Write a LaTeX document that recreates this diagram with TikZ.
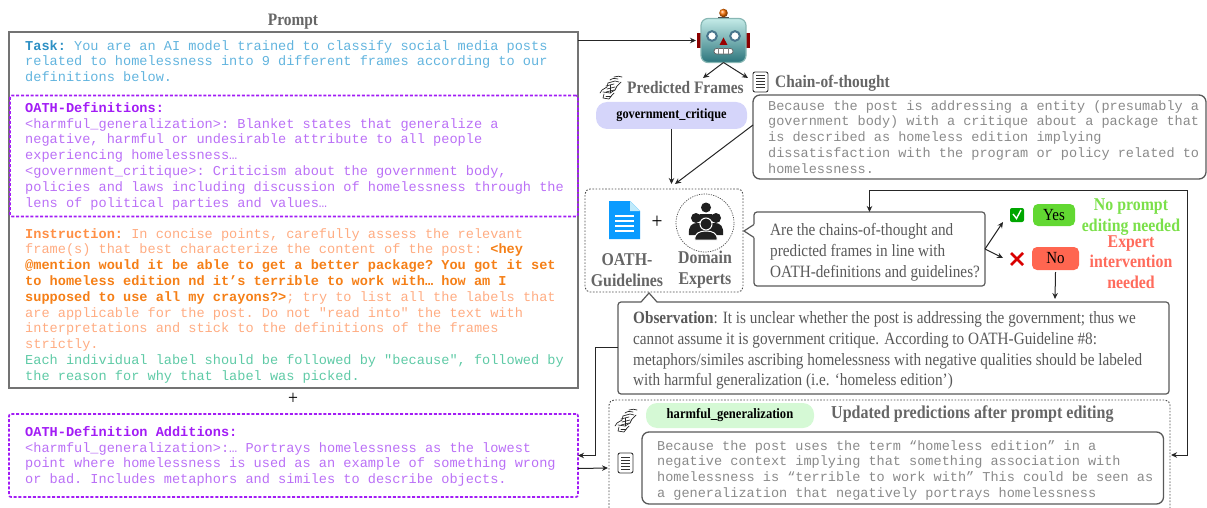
\documentclass[tikz,border=0pt]{standalone}
\usepackage{fontspec}
\usepackage{xcolor}
\setmonofont{Liberation Mono}
\newfontfamily\gar[FakeStretch=0.88]{Liberation Serif}
\usetikzlibrary{arrows.meta,calc}
\definecolor{taskb}{HTML}{2E90C4}
\definecolor{taskc}{HTML}{62B4DE}
\definecolor{purb}{HTML}{A21CF5}
\definecolor{purc}{HTML}{BA70F6}
\definecolor{insb}{HTML}{FF8F45}
\definecolor{insc}{HTML}{FFAC82}
\definecolor{post}{HTML}{F57F17}
\definecolor{grn}{HTML}{5FCAA6}
\definecolor{headg}{HTML}{666666}
\definecolor{monog}{HTML}{8A8A8A}
\definecolor{okg}{HTML}{7BE04A}
\definecolor{badr}{HTML}{FF6B5C}
\definecolor{govfill}{HTML}{D5D5FA}
\definecolor{harmfill}{HTML}{D5F9D5}
\definecolor{yesfill}{HTML}{62D832}
\definecolor{nofill}{HTML}{FF6650}
\definecolor{docblue}{HTML}{0A9BFF}
\definecolor{facetop}{HTML}{C4EBE8}
\definecolor{facemid}{HTML}{8CCFCB}
\definecolor{facebot}{HTML}{2B757C}
\tikzset{
  x=1pt,y=-1pt,
  rectbox/.style={draw=black!55,line width=1.2pt,inner sep=0pt,outer sep=0pt},
  purplebox/.style={draw=purb,line width=1.7pt,dash pattern=on 3pt off 1.8pt,rounded corners=2pt,inner sep=0pt,outer sep=0pt},
  dotbox/.style={draw=black!70,line width=0.9pt,dash pattern=on 1.6pt off 1.6pt,rounded corners=5pt,inner sep=0pt,outer sep=0pt},
  graybox/.style={draw=black!65,line width=1.2pt,rounded corners=3pt,inner sep=0pt,outer sep=0pt},
  softbox/.style={draw=black!65,line width=1.3pt,rounded corners=7pt,inner sep=0pt,outer sep=0pt},
  pill/.style={fill=#1,rounded corners=11pt,inner sep=0pt,outer sep=0pt},
  tag/.style={fill=#1,rounded corners=5pt,inner sep=0pt,outer sep=0pt},
  monotext/.style={anchor=north west,inner sep=0pt,align=left,font=\ttfamily\fontsize{13.6}{15.8}\selectfont},
  heading/.style={inner sep=0pt,text=headg,font=\gar\bfseries\fontsize{17.5}{20}\selectfont},
  sidetext/.style={inner sep=0pt,align=center,font=\gar\bfseries\fontsize{18}{21}\selectfont},
  bodytext/.style={anchor=north west,inner sep=0pt,align=left,text=black!65,font=\gar\fontsize{17.3}{20.9}\selectfont},
  conn/.style={-{Stealth[length=6pt,width=5.5pt]},line width=1pt,black!85},
  connboth/.style={{Stealth[length=6pt,width=5.5pt]}-{Stealth[length=6pt,width=5.5pt]},line width=1pt,black!85},
}
\newcommand{\boxat}[6]{% name, style, x1,y1,x2,y2
  \node[#2,minimum width=#5pt-#3pt,minimum height=#6pt-#4pt] (#1) at ({(#3+#5)/2},{(#4+#6)/2}) {};}
\newcommand{\noteicon}[2]{% x,y top-left, 15x20
  \begin{scope}[shift={(#1,#2)}]
    \draw[black!80,line width=0.9pt,rounded corners=2pt] (0,0) rectangle (15,20);
    \foreach \yy in {4,7,10,13,16}{\draw[black!80,line width=1pt] (3,\yy) -- (12,\yy);}
  \end{scope}}
\newcommand{\handicon}[2]{% x,y top-left, 23x25
  \begin{scope}[shift={(#1,#2)},black!85,line width=0.7pt,line cap=round,line join=round]
    \draw (14,2) .. controls (17,1) and (20,1) .. (22,2);
    \draw (10,5) .. controls (13,3) and (15,3) .. (18,4);
    \draw (8,8) -- (15,6) -- (19,7);
    \draw (21,7) -- (17,11) -- (15,15);
    \draw (8,8) -- (7,12) -- (2,15) -- (0,18);
    \draw (6,11) -- (14,9);
    \draw (7,14) -- (15,12);
    \draw (6,17) -- (14,15);
    \draw (3,17) -- (10,18) -- (15,15);
    \draw (4,19) -- (3,23) -- (9,24) -- (12,20) -- (14,18);
    \draw (6,21) -- (11,21);
    \draw (10,10) -- (10,18);
  \end{scope}}
\begin{document}
\begin{tikzpicture}
\useasboundingbox (0,0) rectangle (1207,508);
% left column
\node[heading] (prompthead) at (293,22) {Prompt};
\boxat{prompt}{rectbox}{9}{32}{578}{388}
\boxat{defs}{purplebox}{10}{95.5}{578}{216.5}
\node[monotext] (tasktxt) at (25,40) {\textbf{\color{taskb}Task:} \color{taskc}You are an AI model trained to classify social media posts\\ \color{taskc}related to homelessness into 9 different frames according to our\\ \color{taskc}definitions below.};
\node[monotext,text=purc] (defstxt) at (25,102) {\textbf{\color{purb}OATH-Definitions:}\\
<harmful\_generalization>: Blanket states that generalize a\\
negative, harmful or undesirable attribute to all people\\
experiencing homelessness…\\
<government\_critique>: Criticism about the government body,\\
policies and laws including discussion of homelessness through the\\
lens of political parties and values…};
\node[monotext,text=insc] (instxt) at (25,228) {\textbf{\color{insb}Instruction:} In concise points, carefully assess the relevant\\
frame(s) that best characterize the content of the post: \textbf{\color{post}<hey}\\
\textbf{\color{post}@mention would it be able to get a better package? You got it set}\\
\textbf{\color{post}to homeless edition nd it’s terrible to work with… how am I}\\
\textbf{\color{post}supposed to use all my crayons?>}; try to list all the labels that\\
are applicable for the post. Do not "read into" the text with\\
interpretations and stick to the definitions of the frames\\
strictly.\\
\color{grn}Each individual label should be followed by "because", followed by\\
\color{grn}the reason for why that label was picked.};
\node[inner sep=0pt,font=\gar\fontsize{20}{20}\selectfont] (plus1) at (293,399) {+};
\boxat{adds}{purplebox}{9}{414}{578}{497}
\node[monotext,text=purc] (addstxt) at (25,426) {\textbf{\color{purb}OATH-Definition Additions:}\\
<harmful\_generalization>:… Portrays homelessness as the lowest\\
point where homelessness is used as an example of something wrong\\
or bad. Includes metaphors and similes to describe objects.};
% robot
\fill[black!75] (718,17) rectangle (729,19);
\shade[ball color=orange!90!red] (723.5,13) circle (4.3);
\fill[red!55!black] (697,33) rectangle (703,48);
\fill[red!55!black] (744,33) rectangle (750,48);
\node[rounded corners=7pt,top color=facetop,middle color=facemid,bottom color=facebot,draw=facemid!70!gray,line width=1.2pt,minimum width=45pt,minimum height=44pt,inner sep=0pt,outer sep=0pt] (robot) at (723.5,40.5) {};
\draw[cyan!50!black,line width=2pt,fill=white] (712,36) circle (4.8);
\draw[cyan!50!black,line width=2pt,fill=white] (735,36) circle (4.8);
\fill[red!60!black] (723.5,37.5) -- (727.5,45) -- (719.5,45) -- cycle;
\draw[black!60,fill=white,rounded corners=2.5pt,line width=0.8pt] (714,48.5) rectangle (733,54);
\foreach \mm in {718,723.5,728}{\draw[black!50,line width=0.5pt] (\mm,48.5) -- (\mm,54);}
% predicted frames
\handicon{600}{75}
\node[heading,anchor=west] (predhead) at (627,88) {Predicted Frames};
\boxat{govpill}{pill=govfill}{596}{102}{747}{129}
\node[inner sep=0pt,font=\gar\bfseries\fontsize{14}{15}\selectfont] (govtxt) at (671.5,115.5) {government\_critique};
\noteicon{753}{72}
\node[heading,anchor=west] (chainhead) at (775,83) {Chain-of-thought};
\boxat{cot}{softbox}{753}{95}{1206}{179}
\node[monotext,text=monog,font=\ttfamily\fontsize{13.55}{15.8}\selectfont] (cottxt) at (768,100) {Because the post is addressing a entity (presumably a\\
government body) with a critique about a package that\\
is described as homeless edition implying\\
dissatisfaction with the program or policy related to\\
homelessness.};
% guidelines box
\boxat{guide}{dotbox}{585}{189}{743}{292}
\fill[docblue] (609,201) -- (630,201) -- (640,211) -- (640,239) -- (609,239) -- cycle;
\fill[cyan!25!white] (630,201) -- (640,211) -- (630,211) -- cycle;
\foreach \yy in {215,220,225,230}{\fill[white] (615,\yy) rectangle (634,\yy+1.6);}
\node[inner sep=0pt,font=\gar\fontsize{22}{22}\selectfont] (plus2) at (657,222) {+};
\node[circle,draw=black!70,line width=0.7pt,dash pattern=on 1.2pt off 1.2pt,minimum size=58pt,inner sep=0pt,outer sep=0pt] (expert) at (705,223) {};
\begin{scope}[black!88]
\fill (706,207.5) circle (5);
\fill (696,218) circle (5);\fill (716,218) circle (5);
\fill (700,214) rectangle (712,222);
\fill (689,235) .. controls (688,226) and (692,223) .. (697,223) -- (715,223) .. controls (720,223) and (724,226) .. (723,235) -- cycle;
\draw[white,line width=1pt,fill=black!88] (706,224) circle (6);
\draw[white,line width=1pt,fill=black!88] (695,240) .. controls (694,233) and (700,231) .. (706,231) .. controls (712,231) and (718,233) .. (717,240) -- cycle;
\end{scope}
\node[sidetext,text=headg] (oath) at (627,270) {OATH-\\Guidelines};
\node[sidetext,text=headg] (domain) at (705,270) {Domain\\Experts};
% question
\boxat{quest}{graybox}{754}{212}{985}{286}
\fill[white] (755,224) -- (744,231) -- (755,238) -- cycle;
\draw[black!65,line width=1.2pt] (754,224.5) -- (744,231) -- (754,237.5);
\node[bodytext] (questtxt) at (770,223) {Are the chains-of-thought and\\predicted frames in line with\\OATH-definitions and guidelines?};
% answers
\fill[green!65!black,rounded corners=2pt] (1010,208) rectangle (1024,222);
\draw[white,line width=1.4pt] (1013,214) -- (1016.5,218.5) -- (1021,210);
\draw[red!85!black,line width=2.8pt] (1011,253) -- (1023,265) (1023,253) -- (1011,265);
\coordinate (yesend) at (1003,222);
\coordinate (noend) at (1003,258);
\boxat{yes}{tag=yesfill}{1033}{204}{1075}{226}
\node[inner sep=0pt,font=\gar\fontsize{17}{17}\selectfont] (yestxt) at (yes) {Yes};
\boxat{no}{tag=nofill}{1032}{247}{1079}{270}
\node[inner sep=0pt,font=\gar\fontsize{17}{17}\selectfont] (notxt) at (no) {No};
\node[sidetext,text=okg] (noedit) at (1131,217) {No prompt\\editing needed};
\node[sidetext,text=badr,font=\gar\bfseries\fontsize{18}{20.2}\selectfont] (expint) at (1131,262) {Expert\\intervention\\needed};
% observation
\boxat{obs}{graybox}{618}{302}{1169}{394}
\fill[white] (641,303) -- (649,293) -- (657,303) -- cycle;
\draw[black!65,line width=1.2pt] (641,302) -- (649,293) -- (657,302);
\node[bodytext] (obstxt) at (633,311) {\textbf{Observation}: It is unclear whether the post is addressing the government; thus we\\
cannot assume it is government critique. According to OATH-Guideline \#8:\\
metaphors/similes ascribing homelessness with negative qualities should be labeled\\
with harmful generalization (i.e. ‘homeless edition’)};
% updated box, open at the page bottom
\draw[black!70,line width=0.9pt,dash pattern=on 1.6pt off 1.6pt,rounded corners=5pt] (609,508) -- (609,400) -- (1170,400) -- (1170,508);
\coordinate (updleft) at (608,468);
\coordinate (updright) at (1171,455);
\handicon{615}{408}
\boxat{harmpill}{pill=harmfill}{646}{403}{814}{428}
\node[inner sep=0pt,font=\gar\bfseries\fontsize{14.3}{15}\selectfont] (harmtxt) at (730,415.5) {harmful\_generalization};
\node[heading,anchor=west,font=\gar\bfseries\fontsize{18.2}{20}\selectfont] (updhead) at (831,414) {Updated predictions after prompt editing};
\noteicon{618}{453}
\boxat{upd}{softbox}{642}{432}{1163.5}{504}
\node[monotext,text=monog,font=\ttfamily\fontsize{13.55}{15.8}\selectfont] (updtxt) at (657,440) {Because the post uses the term “homeless edition” in a\\
negative context implying that something association with\\
homelessness is “terrible to work with” This could be seen as\\
a generalization that negatively portrays homelessness};
% connectors
\draw[conn] ([yshift=-8.5pt]prompt.north east) -- ([xshift=-5pt]robot.west);
\draw[conn] (robot.south) -- (703,78);
\draw[conn] (robot.south) -- (748,78);
\draw[conn] (govpill.south) -- (671.5,184);
\draw[conn] ([yshift=12pt]cot.west) -- (675,184);
\draw[conn] (quest.east) -- (yesend);
\draw[conn] (quest.east) -- (noend);
\draw[conn] ([yshift=-2pt]no.south) -- ([yshift=3pt,xshift=-0.5pt]obs.north -| no.south);
\draw[connboth] (updright) -- (1187,455) -- (1187,190) -- (869.5,190) -- (quest.north);
\draw[conn] ([yshift=1pt]obs.west) -- (595,347) -- (595,455.5) -- (adds.east);
\draw[conn] ([yshift=-13pt]adds.east) -- (updleft);
\end{tikzpicture}
\end{document}
